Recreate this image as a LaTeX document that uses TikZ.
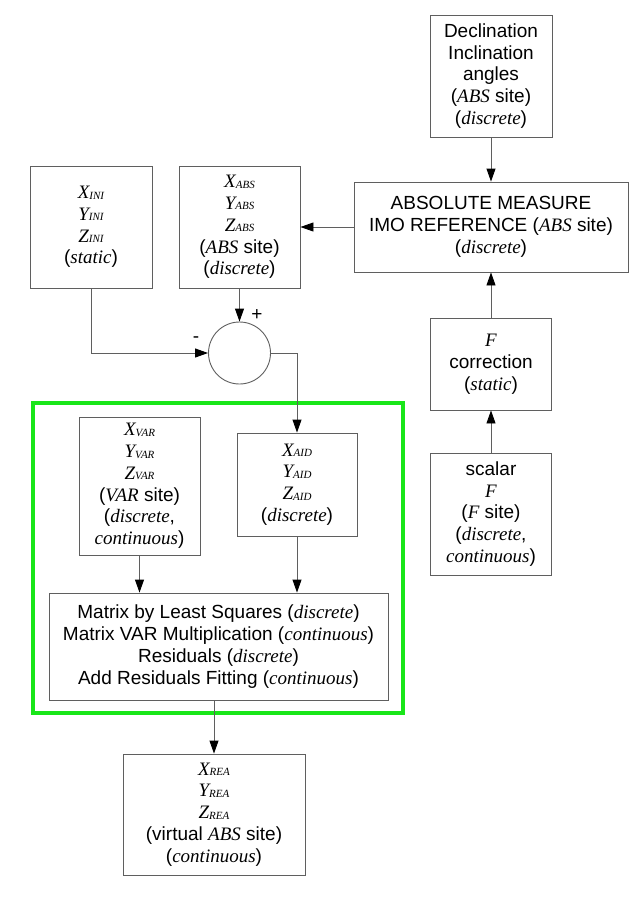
\documentclass[tikz,border=0pt]{standalone}
\usepackage{fontspec}
\setmainfont{Liberation Sans}
\newfontfamily\timesfont{Liberation Serif}
\usetikzlibrary{arrows.meta}
\definecolor{linegray}{RGB}{95,95,95}
\definecolor{framegreen}{RGB}{25,230,25}
\newcommand{\tms}[1]{{\timesfont\itshape #1}}
\newcommand{\vcomp}[2]{\tms{#1}\raisebox{-0.5pt}{\fontsize{11}{11}\selectfont\tms{#2}}}

\begin{document}
\begin{tikzpicture}[x=1pt, y=-1pt, -{Triangle[length=13pt,width=9pt,color=black]}, color=linegray, line width=0.9pt,
box/.style = {draw, rectangle, inner sep=0pt, align=center, text=black, font=\fontsize{19}{21.8}\selectfont},
sum/.style = {draw, circle, minimum size=62pt, inner sep=0pt},
sign/.style = {inner sep=0pt, text=black, font=\fontsize{19}{21.8}\selectfont}]
    \useasboundingbox (0,0) rectangle (636,900);
    \draw[-, framegreen, line width=4.5pt] (33,403) rectangle (403,713);

    \node[box, minimum width=122pt, minimum height=122pt] (1) at (491,76) {Declination\\Inclination\\angles\\(\tms{ABS} site)\\(\tms{discrete})};
    \node[box, minimum width=274pt, minimum height=90pt] (2) at (491,227) {ABSOLUTE MEASURE\\IMO REFERENCE (\tms{ABS} site)\\(\tms{discrete})};
    \node[box, minimum width=121pt, minimum height=92pt] (3) at (491,364) {\tms{F}\\correction\\(\tms{static})};
    \node[box, minimum width=121pt, minimum height=122pt] (4) at (491,514) {scalar\\\tms{F}\\(\tms{F} site)\\(\tms{discrete},\\\tms{continuous})};

    \node[box, minimum width=122pt, minimum height=122pt] (5) at (91,227) {\vcomp{X}{INI}\\\vcomp{Y}{INI}\\\vcomp{Z}{INI}\\(\tms{static})};
    \node[box, minimum width=121pt, minimum height=122pt] (6) at (239.5,227) {\vcomp{X}{ABS}\\\vcomp{Y}{ABS}\\\vcomp{Z}{ABS}\\(\tms{ABS} site)\\(\tms{discrete})};
    \node[sum] (7) at (239.5,353) {};
    \node[sign] (8) at (257,315) {+};
    \node[sign] (9) at (196,340) {-};

    \node[box, minimum width=121pt, minimum height=138pt] (10) at (139.5,486) {\vcomp{X}{VAR}\\\vcomp{Y}{VAR}\\\vcomp{Z}{VAR}\\(\tms{VAR} site)\\(\tms{discrete},\\\tms{continuous})};
    \node[box, minimum width=120pt, minimum height=103pt] (11) at (297,484.5) {\vcomp{X}{AID}\\\vcomp{Y}{AID}\\\vcomp{Z}{AID}\\(\tms{discrete})};
    \node[box, minimum width=339pt, minimum height=107pt] (12) at (218.5,646.5) {Matrix by Least Squares (\tms{discrete})\\Matrix VAR Multiplication (\tms{continuous})\\Residuals (\tms{discrete})\\Add Residuals Fitting (\tms{continuous})};
    \node[box, minimum width=182pt, minimum height=121pt] (13) at (214,814.5) {\vcomp{X}{REA}\\\vcomp{Y}{REA}\\\vcomp{Z}{REA}\\(virtual \tms{ABS} site)\\(\tms{continuous})};

    \draw (1) -- (2);
    \draw (3) -- (2);
    \draw (4) -- (3);
    \draw (2) -- (6);
    \draw (6) -- (7);
    \draw (5.south) |- (7.west);
    \draw (7.east) -| (11.north);
    \draw (10.south) -- (10.south |- 12.north);
    \draw (11.south) -- (11.south |- 12.north);
    \draw (12.south -| 13.north) -- (13.north);
\end{tikzpicture}
\end{document}
